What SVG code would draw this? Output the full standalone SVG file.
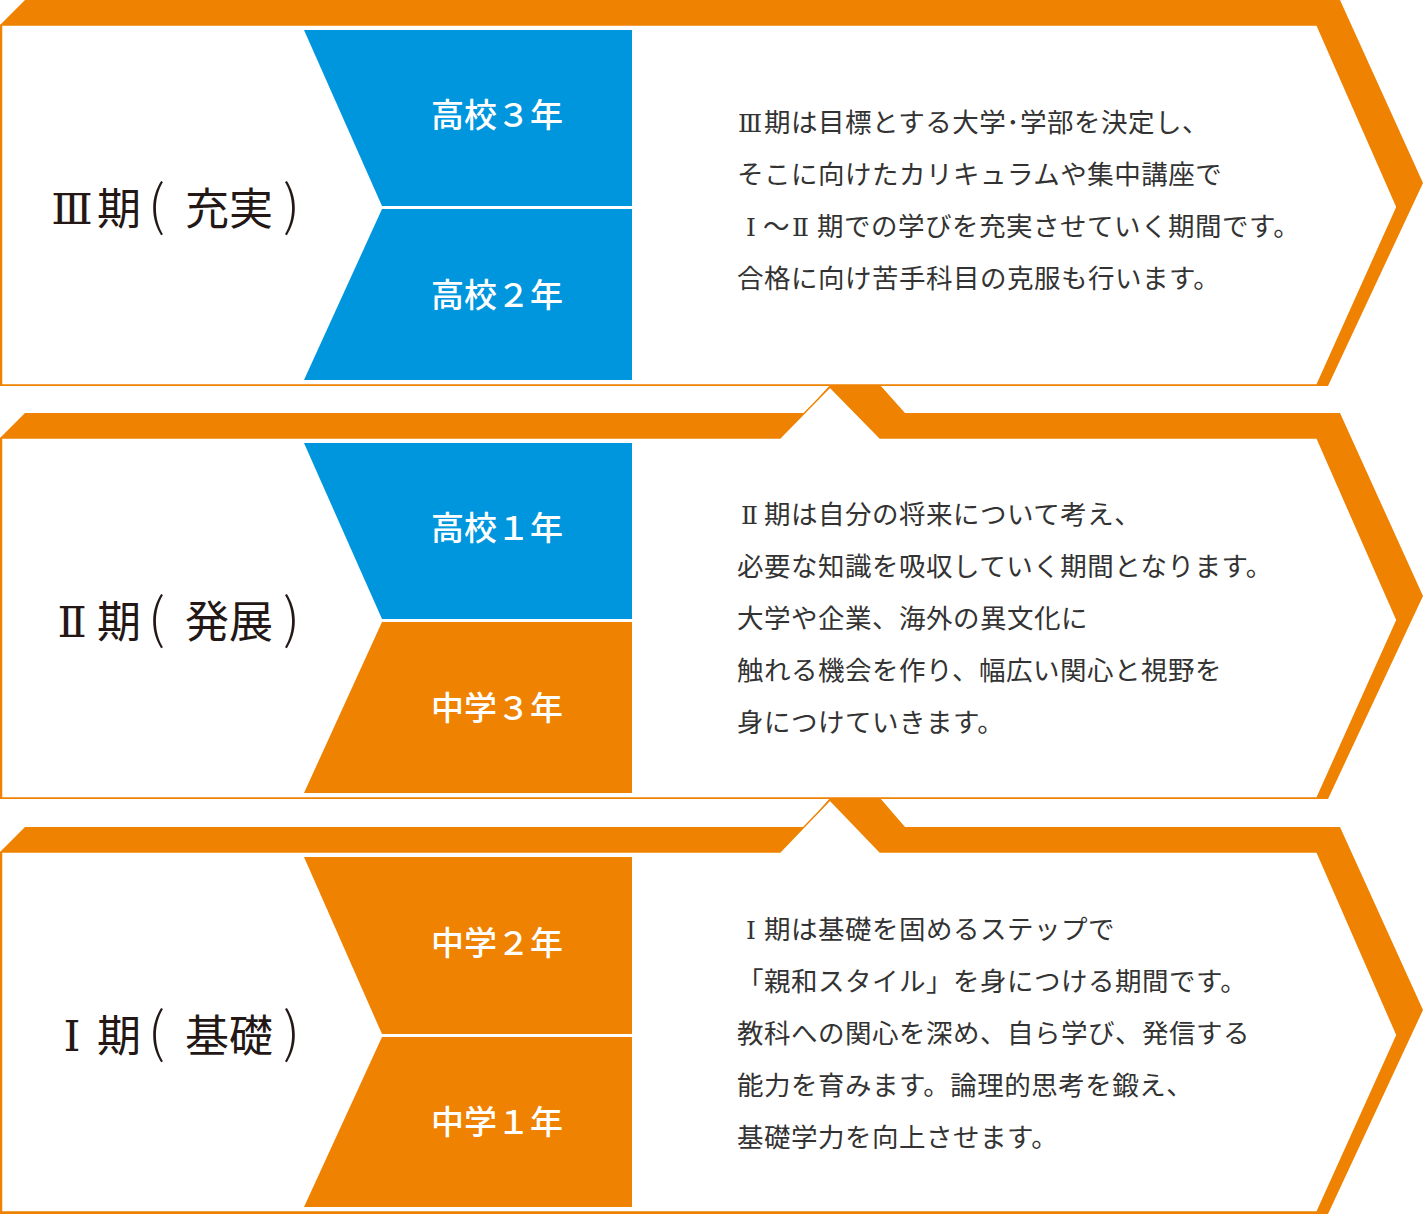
<svg xmlns="http://www.w3.org/2000/svg" width="1424" height="1214" viewBox="0 0 1424 1214">
<style>
.band{fill:#EF8200}
.box{fill:#FFFFFF;stroke:#EF8200;stroke-width:1.5}
.blue{fill:#0096DE}
.orange{fill:#EF8200}
.grade{font-family:"Noto Sans CJK JP","Noto Sans",sans-serif;font-size:33px;font-weight:500;fill:#FFFFFF;text-anchor:middle}
.num{font-family:"DejaVu Serif","Liberation Serif",serif;font-size:43px;fill:#231815;text-anchor:middle}
.title{font-family:"Noto Sans CJK JP","Noto Sans",sans-serif;font-size:44px;fill:#231815}
.paren{font-family:"Noto Sans CJK JP","Noto Sans",sans-serif;font-size:54px;font-weight:300}
.desc{font-family:"Noto Sans CJK JP","Noto Sans",sans-serif;font-size:26.5px;letter-spacing:0.5px;fill:#333333}
.rn{font-family:"DejaVu Serif","Liberation Serif",serif;font-size:25px;letter-spacing:0}
</style>
<rect width="1424" height="1214" fill="#FFFFFF"/>

<g id="phase-3">
  <polygon class="band" points="0,25 25,0 1340,0 1423,183 1328,386 0,386"/>
  <polygon class="box" points="1.5,25 1317,25 1397,207 1317,385 1.5,385"/>
  <text class="num" x="72" y="224">Ⅲ</text>
  <text class="title" y="225"><tspan x="97">期</tspan><tspan class="paren" x="148">(</tspan><tspan x="185">充実</tspan><tspan class="paren" x="283">)</tspan></text>
  <g id="grade-h3">
    <polygon class="blue" points="304,30 632,30 632,206 382,206"/>
    <text class="grade" x="497" y="127">高校３年</text>
  </g>
  <g id="grade-h2">
    <polygon class="blue" points="382,209 632,209 632,380 304,380"/>
    <text class="grade" x="497" y="307">高校２年</text>
  </g>
  <text class="desc" y="132"><tspan class="rn" x="738">Ⅲ</tspan><tspan x="764">期は目標とする大学･学部を決定し、</tspan></text>
  <text class="desc" x="737" y="184">そこに向けたカリキュラムや集中講座で</text>
  <text class="desc" y="236"><tspan class="rn" x="746">Ⅰ</tspan><tspan x="763">～</tspan><tspan class="rn" x="792">Ⅱ</tspan><tspan x="817">期での学びを充実させていく期間です。</tspan></text>
  <text class="desc" x="737" y="288">合格に向け苦手科目の克服も行います。</text>
</g>

<g id="phase-2">
  <polygon class="band" points="0,438 25,413 805,413 830,385 880,385 905,413 1340,413 1423,596 1328,799 0,799"/>
  <polygon class="box" points="1.5,438 780,438 830,387 880,438 1317,438 1397,620 1317,798 1.5,798"/>
  <text class="num" x="72" y="637">Ⅱ</text>
  <text class="title" y="638"><tspan x="97">期</tspan><tspan class="paren" x="148">(</tspan><tspan x="185">発展</tspan><tspan class="paren" x="283">)</tspan></text>
  <g id="grade-h1">
    <polygon class="blue" points="304,443 632,443 632,619 382,619"/>
    <text class="grade" x="497" y="540">高校１年</text>
  </g>
  <g id="grade-j3">
    <polygon class="orange" points="382,622 632,622 632,793 304,793"/>
    <text class="grade" x="497" y="720">中学３年</text>
  </g>
  <text class="desc" y="524"><tspan class="rn" x="741">Ⅱ</tspan><tspan x="764">期は自分の将来について考え、</tspan></text>
  <text class="desc" x="737" y="576">必要な知識を吸収していく期間となります。</text>
  <text class="desc" x="737" y="628">大学や企業、海外の異文化に</text>
  <text class="desc" x="737" y="680">触れる機会を作り、幅広い関心と視野を</text>
  <text class="desc" x="737" y="732">身につけていきます。</text>
</g>

<g id="phase-1">
  <polygon class="band" points="0,852 25,827 805,827 830,798 880,798 905,827 1340,827 1423,1010 1328,1214 0,1214"/>
  <polygon class="box" points="1.5,852 780,852 830,800 880,852 1317,852 1397,1035 1317,1212 1.5,1212"/>
  <text class="num" x="72" y="1051">Ⅰ</text>
  <text class="title" y="1052"><tspan x="97">期</tspan><tspan class="paren" x="148">(</tspan><tspan x="185">基礎</tspan><tspan class="paren" x="283">)</tspan></text>
  <g id="grade-j2">
    <polygon class="orange" points="304,857 632,857 632,1034 382,1034"/>
    <text class="grade" x="497" y="955">中学２年</text>
  </g>
  <g id="grade-j1">
    <polygon class="orange" points="382,1037 632,1037 632,1207 304,1207"/>
    <text class="grade" x="497" y="1134">中学１年</text>
  </g>
  <text class="desc" y="939"><tspan class="rn" x="746">Ⅰ</tspan><tspan x="764">期は基礎を固めるステップで</tspan></text>
  <text class="desc" x="737" y="991">「親和スタイル」を身につける期間です。</text>
  <text class="desc" x="737" y="1043">教科への関心を深め、自ら学び、発信する</text>
  <text class="desc" x="737" y="1095">能力を育みます。論理的思考を鍛え、</text>
  <text class="desc" x="737" y="1147">基礎学力を向上させます。</text>
</g>

<g id="connectors"/>
</svg>
